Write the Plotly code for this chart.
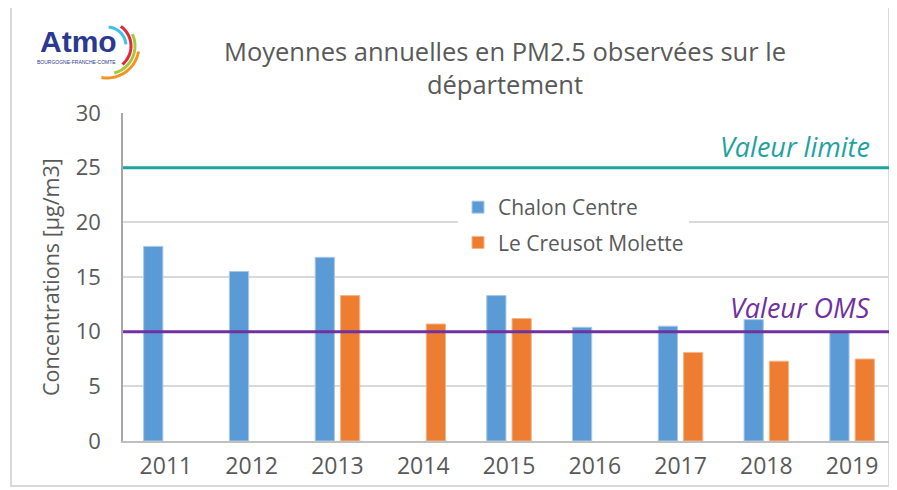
import numpy as np
import plotly.graph_objects as go

years = ["2011", "2012", "2013", "2014", "2015", "2016", "2017", "2018", "2019"]
chalon = [17.8, 15.5, 16.8, None, 13.3, 10.4, 10.5, 11.1, 10.0]
creusot = [None, None, 13.3, 10.7, 11.2, None, 8.1, 7.3, 7.5]
valeur_limite = 25
valeur_oms = 10

OFF = 8  # page body margin
W, H = 897 - OFF, 490 - OFF
L, R, T, B = 123 - OFF, 10 - OFF, 113 - OFF, 49
PW, PH = W - L - R, H - T - B

def px(x):
    return (x - OFF - L) / PW

def py(y):
    return (H - B - (y - OFF)) / PH

FONT = "Open Sans"
GREY = "#595959"

fig = go.Figure()
fig.add_trace(go.Bar(x=years, y=chalon, name="Chalon Centre", legendgroup="a",
                     marker=dict(color="#5b9bd5", line=dict(color="#a9c9ea", width=1))))
fig.add_trace(go.Bar(x=years, y=creusot, name="Le Creusot Molette", legendgroup="b",
                     marker=dict(color="#ed7d31", line=dict(color="#f5b48a", width=1))))

shapes = [
    dict(type="line", xref="paper", yref="y", x0=0, x1=1, y0=valeur_limite, y1=valeur_limite,
         line=dict(color="#1fa3a0", width=3)),
    dict(type="line", xref="paper", yref="y", x0=0, x1=1, y0=valeur_oms, y1=valeur_oms,
         line=dict(color="#7030a0", width=3)),
    # outer frame
    dict(type="rect", xref="paper", yref="paper", x0=px(11), x1=px(889), y0=py(486), y1=py(6),
         line=dict(color="#d9d9d9", width=2), layer="below"),
]

# logo arcs
cx, cy = 107, 46
arcs = [("#3ec1e8", 19, 85, 5), ("#e2263b", 24, 55, -50), ("#a6c83a", 28, 25, -75), ("#f39325", 32, -10, -100)]
for col, r, a0, a1 in arcs:
    ang = np.radians(np.linspace(a0, a1, 30))
    pts = [(px(cx + r * np.cos(a)), py(cy - r * np.sin(a))) for a in ang]
    path = "M " + " L ".join(f"{x:.5f},{y:.5f}" for x, y in pts)
    shapes.append(dict(type="path", xref="paper", yref="paper", path=path,
                       line=dict(color=col, width=3)))

annotations = [
    dict(text="Moyennes annuelles en PM2.5 observées sur le<br>département", xref="paper", yref="paper",
         x=px(505), y=py(67), xanchor="center", yanchor="middle", showarrow=False,
         font=dict(family=FONT, size=25.5, color=GREY)),
    dict(text="Concentrations [µg/m3]", xref="paper", yref="paper", x=px(50), y=py(277),
         textangle=-90, showarrow=False, xanchor="center", yanchor="middle",
         font=dict(family=FONT, size=21.5, color=GREY)),
    dict(text="<i>Valeur limite</i>", xref="paper", yref="y", x=px(872), y=valeur_limite,
         xanchor="right", yanchor="bottom", yshift=1, showarrow=False,
         font=dict(family=FONT, size=27, color="#1fa3a0")),
    dict(text="<i>Valeur OMS</i>", xref="paper", yref="y", x=px(872), y=valeur_oms,
         xanchor="right", yanchor="bottom", yshift=4, showarrow=False,
         font=dict(family=FONT, size=27, color="#7030a0")),
    dict(text="<b>Atmo</b>", xref="paper", yref="paper", x=px(38), y=py(42),
         xanchor="left", yanchor="middle", showarrow=False,
         font=dict(family="Liberation Sans", size=30, color="#2b3990")),
    dict(text="BOURGOGNE-FRANCHE-COMTE", xref="paper", yref="paper", x=px(76), y=py(62),
         xanchor="center", yanchor="middle", showarrow=False,
         font=dict(family="Liberation Sans", size=5, color="#2b3990")),
]

fig.update_layout(
    width=W, height=H,
    margin=dict(l=L, r=R, t=T, b=B, autoexpand=False),
    paper_bgcolor="white", plot_bgcolor="white",
    barmode="group", bargap=0.41, bargroupgap=0.24,
    font=dict(family=FONT, color=GREY),
    showlegend=True,
    legend=dict(x=px(458), y=py(187), xanchor="left", yanchor="top", bgcolor="white",
                font=dict(family=FONT, size=21, color=GREY), tracegroupgap=5,
                itemwidth=30),
    xaxis=dict(showline=True, linecolor="#bfbfbf", linewidth=1.5, ticks="",
               tickfont=dict(family=FONT, size=23, color=GREY), showgrid=False,
               ticklabelstandoff=4),
    yaxis=dict(range=[0, 30], dtick=5, showline=True, linecolor="#a6a6a6", linewidth=1.5,
               gridcolor="#d9d9d9", gridwidth=1.5, zeroline=False, ticks="",
               tickfont=dict(family=FONT, size=22, color=GREY), ticklabelstandoff=16),
    shapes=shapes, annotations=annotations,
)

fig.write_html("out.html")
